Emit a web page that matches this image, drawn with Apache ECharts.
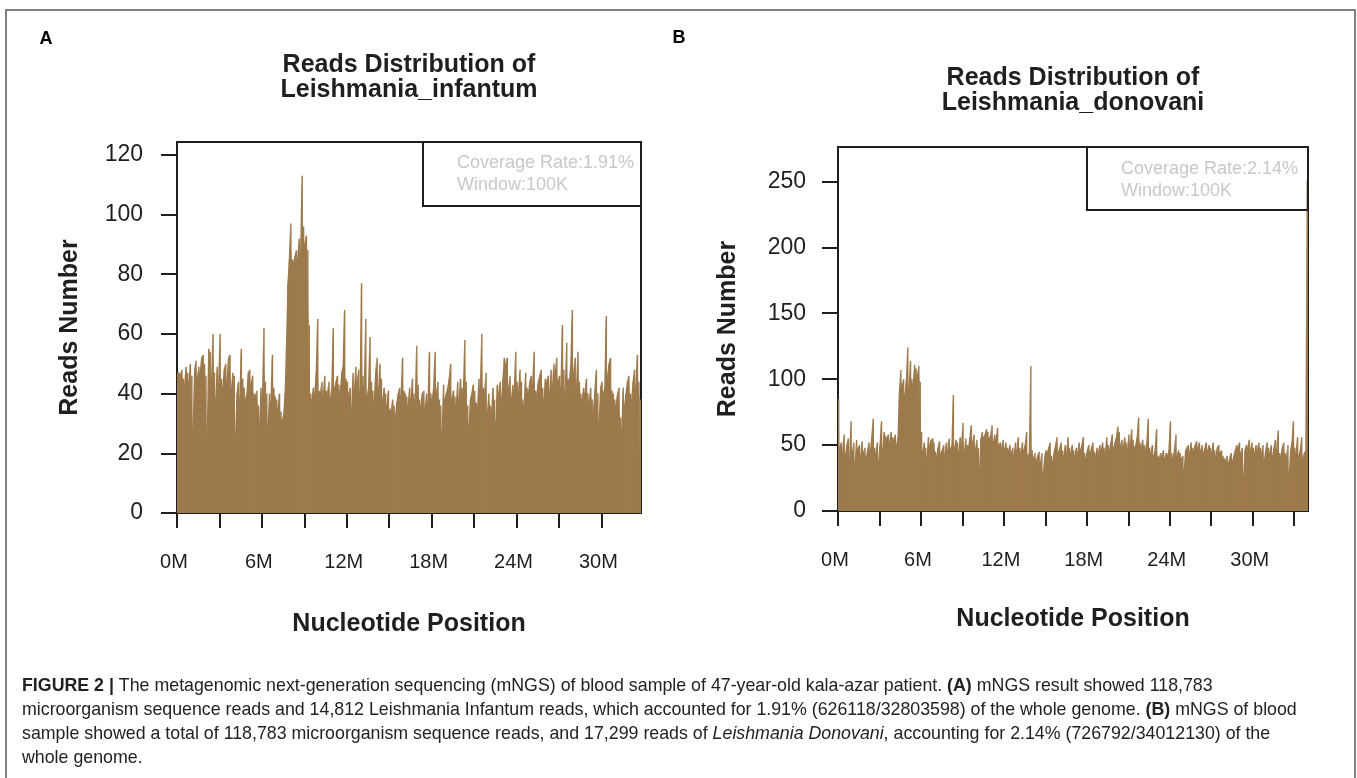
<!DOCTYPE html>
<html>
<head>
<meta charset="utf-8">
<script src="https://cdn.jsdelivr.net/npm/echarts@6.0.0/dist/echarts.min.js"></script>
<style>
  html, body { margin: 0; padding: 0; background: #fff; }
  #main { width: 1357px; height: 778px; }
</style>
</head>
<body>
<div id="main"></div>
<script>
// reads per 100K window, Leishmania_infantum (32.8M genome, 328 windows)
var readsInfantum = [
    47, 47, 46, 48, 45, 43, 49, 47, 44, 50, 46, 28, 48, 51, 45, 49, 47, 52, 53, 50,
    46, 26, 55, 54, 44, 60, 47, 38, 49, 43, 60, 45, 42, 48, 50, 44, 52, 53, 41, 47,
    46, 26, 40, 44, 38, 55, 45, 42, 38, 40, 47, 48, 43, 46, 40, 39, 41, 36, 30, 42,
    38, 62, 44, 40, 29, 40, 37, 53, 42, 39, 38, 35, 40, 34, 31, 33, 40, 56, 77, 85,
    97, 85, 84, 86, 88, 85, 92, 87, 113, 96, 90, 93, 88, 63, 40, 38, 42, 40, 47, 65,
    41, 40, 44, 39, 46, 41, 40, 44, 38, 42, 62, 42, 44, 46, 43, 40, 47, 49, 68, 45,
    44, 40, 42, 34, 47, 41, 49, 44, 48, 40, 77, 46, 42, 65, 39, 42, 59, 44, 41, 37,
    47, 52, 40, 50, 45, 38, 42, 40, 36, 41, 35, 34, 38, 36, 32, 37, 40, 42, 39, 52,
    41, 40, 39, 36, 42, 38, 45, 40, 37, 56, 43, 38, 36, 40, 41, 35, 40, 37, 54, 40,
    38, 42, 54, 40, 44, 38, 36, 27, 43, 38, 40, 42, 45, 50, 38, 41, 39, 36, 44, 38,
    45, 42, 40, 58, 44, 36, 29, 38, 40, 43, 41, 37, 35, 45, 41, 60, 42, 40, 47, 33,
    40, 36, 34, 42, 38, 30, 43, 40, 44, 38, 45, 52, 50, 52, 42, 46, 38, 43, 41, 54,
    44, 40, 48, 44, 38, 36, 47, 42, 40, 44, 46, 43, 54, 41, 40, 44, 46, 48, 42, 38,
    45, 44, 46, 40, 48, 42, 50, 47, 52, 44, 46, 42, 63, 48, 40, 57, 45, 44, 50, 68,
    47, 52, 42, 54, 44, 40, 38, 42, 40, 45, 40, 37, 42, 38, 34, 41, 48, 40, 30, 42,
    44, 40, 42, 66, 46, 50, 52, 41, 40, 38, 36, 40, 42, 32, 28, 42, 36, 40, 44, 46,
    40, 38, 44, 48, 42, 53, 44, 38
];

// reads per 100K window, Leishmania_donovani (34.0M genome, 340 windows)
var readsDonovani = [
    85, 48, 52, 45, 58, 42, 50, 55, 40, 68, 44, 52, 35, 54, 47, 50, 42, 53, 44, 48,
    40, 46, 52, 45, 56, 70, 48, 44, 52, 38, 50, 68, 46, 60, 57, 55, 58, 52, 60, 56,
    54, 58, 50, 56, 90, 107, 95, 100, 88, 98, 124, 92, 114, 100, 96, 111, 108, 102, 110, 98,
    60, 45, 52, 48, 40, 56, 50, 54, 55, 52, 45, 42, 48, 53, 44, 46, 50, 43, 52, 46,
    55, 47, 50, 88, 48, 54, 52, 45, 56, 50, 67, 44, 55, 50, 48, 56, 65, 52, 58, 46,
    54, 48, 32, 55, 60, 56, 58, 62, 60, 55, 57, 65, 52, 58, 54, 63, 50, 52, 48, 54,
    46, 52, 48, 46, 50, 44, 48, 42, 52, 46, 56, 48, 44, 52, 46, 50, 60, 42, 44, 110,
    46, 40, 44, 38, 42, 45, 36, 44, 27, 40, 46, 44, 48, 52, 42, 38, 45, 50, 56, 44,
    48, 52, 46, 42, 50, 44, 56, 48, 44, 50, 46, 42, 48, 44, 52, 46, 50, 56, 44, 40,
    46, 50, 44, 48, 52, 45, 42, 48, 44, 50, 46, 52, 48, 44, 56, 50, 46, 52, 58, 48,
    52, 56, 64, 60, 50, 54, 48, 56, 52, 46, 58, 50, 62, 54, 48, 50, 56, 71, 52, 48,
    54, 50, 46, 52, 70, 48, 44, 50, 42, 46, 62, 42, 40, 44, 42, 46, 40, 44, 42, 46,
    68, 44, 40, 46, 58, 42, 46, 44, 40, 42, 30, 46, 48, 50, 44, 52, 48, 46, 50, 53,
    48, 52, 46, 50, 44, 48, 52, 46, 50, 48, 44, 52, 46, 42, 48, 50, 44, 46, 42, 40,
    38, 42, 36, 40, 44, 38, 42, 46, 50, 48, 52, 44, 48, 26, 46, 50, 48, 54, 46, 52,
    48, 44, 50, 46, 52, 48, 44, 50, 38, 46, 52, 48, 44, 50, 42, 48, 54, 46, 61, 44,
    42, 48, 52, 44, 40, 50, 27, 46, 52, 68, 48, 44, 56, 42, 46, 56, 40, 44, 46, 251
];

var windowSize = 0.1;          // 100K in M
var genomeInfantum = 32.8;     // M
var genomeDonovani = 34.0;     // M

var xTicksA = [0, 3, 6, 9, 12, 15, 18, 21, 24, 27, 30];
var xTicksB = [0, 3, 6, 9, 12, 15, 18, 21, 24, 27, 30, 33];
var xLabels = [0, 6, 12, 18, 24, 30];
var yTicksA = [0, 20, 40, 60, 80, 100, 120];
var yTicksB = [0, 50, 100, 150, 200, 250];

var legendA = 'Coverage Rate:1.91%\nWindow:100K';
var legendB = 'Coverage Rate:2.14%\nWindow:100K';

var captionLines = [
    '{b|FIGURE 2 |} The metagenomic next-generation sequencing (mNGS) of blood sample of 47-year-old kala-azar patient. {b|(A)} mNGS result showed 118,783',
    'microorganism sequence reads and 14,812 Leishmania Infantum reads, which accounted for 1.91% (626118/32803598) of the whole genome. {b|(B)} mNGS of blood',
    'sample showed a total of 118,783 microorganism sequence reads, and 17,299 reads of {i|Leishmania Donovani}, accounting for 2.14% (726792/34012130) of the',
    'whole genome.'
];

var FONT = 'Liberation Sans, Arial, sans-serif';
var INK = '#1f1f1f';
var BAR = '#9d7a4c';
var CAP = 17.8;

function toPairs(vals) {
    return vals.map(function (v, i) { return [i * windowSize + windowSize / 2, v]; });
}
function maxOf(vals) {
    return Math.max.apply(null, vals);
}

var chart = echarts.init(document.getElementById('main'));

function xAxisFor(gridIndex, max, ticks, gap) {
    return {
        gridIndex: gridIndex,
        type: 'value',
        min: 0,
        max: max,
        splitLine: { show: false },
        axisLine: { show: true, onZero: false, lineStyle: { color: INK, width: 2 } },
        axisTick: { show: true, length: 15, customValues: ticks, lineStyle: { color: INK, width: 2 } },
        axisLabel: {
            customValues: xLabels,
            formatter: function (v) { return v + 'M'; },
            fontSize: 20, fontFamily: FONT, color: INK, margin: 39,
            padding: [0, 6, 0, 0]
        },
        name: 'Nucleotide Position',
        nameLocation: 'middle',
        nameGap: gap,
        nameTextStyle: { fontSize: 25, fontWeight: 'bold', fontFamily: FONT, color: INK }
    };
}

function yAxisFor(gridIndex, max, ticks, margin, gap) {
    return {
        gridIndex: gridIndex,
        type: 'value',
        min: 0,
        max: max,
        splitLine: { show: false },
        axisLine: { show: true, lineStyle: { color: INK, width: 2 } },
        axisTick: { show: true, length: 16, customValues: ticks, lineStyle: { color: INK, width: 2 } },
        axisLabel: { customValues: ticks, fontSize: 23, fontFamily: FONT, color: INK, margin: margin },
        name: 'Reads Number',
        nameLocation: 'middle',
        nameGap: gap,
        nameTextStyle: { fontSize: 25, fontWeight: 'bold', fontFamily: FONT, color: INK }
    };
}

// one bar per 100K window
function barSeries(index, vals) {
    return {
        type: 'bar',
        xAxisIndex: index,
        yAxisIndex: index,
        data: toPairs(vals),
        barWidth: '100%',
        itemStyle: { color: BAR },
        silent: true,
        z: 3
    };
}

// same windows as a stepped area underneath, so the thin bars leave no white seams
function fillSeries(index, vals) {
    return {
        type: 'line',
        xAxisIndex: index,
        yAxisIndex: index,
        data: toPairs(vals),
        step: 'middle',
        symbol: 'none',
        lineStyle: { width: 0 },
        areaStyle: { color: BAR, opacity: 1 },
        silent: true,
        z: 2
    };
}

var titleStyle = { fontSize: 25, fontWeight: 'bold', fontFamily: FONT, color: INK, lineHeight: 25 };
var legendStyle = { fill: '#c8c8c8', fontSize: 18, fontFamily: FONT, lineHeight: 22 };

var graphics = [
    // outer frame of the figure
    { type: 'rect', shape: { x: 6, y: 10, width: 1349, height: 800 }, style: { fill: 'none', stroke: '#555', lineWidth: 1.5 }, z: 100 },
    { type: 'text', x: 46, y: 39, style: { text: 'A', fontSize: 18, fontWeight: 'bold', fontFamily: FONT, fill: '#000', align: 'center', verticalAlign: 'middle' } },
    { type: 'text', x: 679, y: 38, style: { text: 'B', fontSize: 18, fontWeight: 'bold', fontFamily: FONT, fill: '#000', align: 'center', verticalAlign: 'middle' } },
    // legend boxes
    { type: 'rect', shape: { x: 423, y: 142, width: 218, height: 64 }, style: { fill: 'none', stroke: INK, lineWidth: 2 }, z: 100 },
    { type: 'text', x: 457, y: 152, style: Object.assign({ text: legendA }, legendStyle), z: 100 },
    { type: 'rect', shape: { x: 1087, y: 147, width: 221, height: 63 }, style: { fill: 'none', stroke: INK, lineWidth: 2 }, z: 100 },
    { type: 'text', x: 1121, y: 158, style: Object.assign({ text: legendB }, legendStyle), z: 100 }
];

var capY = [686, 710, 734, 758];
captionLines.forEach(function (line, i) {
    graphics.push({
        type: 'text', x: 22, y: capY[i],
        style: {
            text: line, fontSize: CAP, fontFamily: FONT, fill: '#222', verticalAlign: 'middle',
            rich: {
                b: { fontSize: CAP, fontFamily: FONT, fontWeight: 'bold', fill: '#222' },
                i: { fontSize: CAP, fontFamily: FONT, fontStyle: 'italic', fill: '#222' }
            }
        }
    });
});

var option = {
    animation: false,
    backgroundColor: '#fff',
    title: [
        { text: 'Reads Distribution of\nLeishmania_infantum', left: 409, top: 53, textAlign: 'center', padding: 0, textStyle: titleStyle },
        { text: 'Reads Distribution of\nLeishmania_donovani', left: 1073, top: 66, textAlign: 'center', padding: 0, textStyle: titleStyle }
    ],
    grid: [
        { left: 177, top: 142, width: 464, height: 371, show: true, borderColor: INK, borderWidth: 2, containLabel: false, outerBoundsMode: 'none' },
        { left: 838, top: 147, width: 470, height: 364, show: true, borderColor: INK, borderWidth: 2, containLabel: false, outerBoundsMode: 'none' }
    ],
    xAxis: [
        xAxisFor(0, genomeInfantum, xTicksA, 99),
        xAxisFor(1, genomeDonovani, xTicksB, 96)
    ],
    yAxis: [
        yAxisFor(0, maxOf(readsInfantum) * 1.1, yTicksA, 34, 94),
        yAxisFor(1, maxOf(readsDonovani) * 1.1, yTicksB, 32, 97)
    ],
    series: [
        fillSeries(0, readsInfantum),
        barSeries(0, readsInfantum),
        fillSeries(1, readsDonovani),
        barSeries(1, readsDonovani)
    ],
    graphic: graphics
};

option && chart.setOption(option);
</script>
</body>
</html>
